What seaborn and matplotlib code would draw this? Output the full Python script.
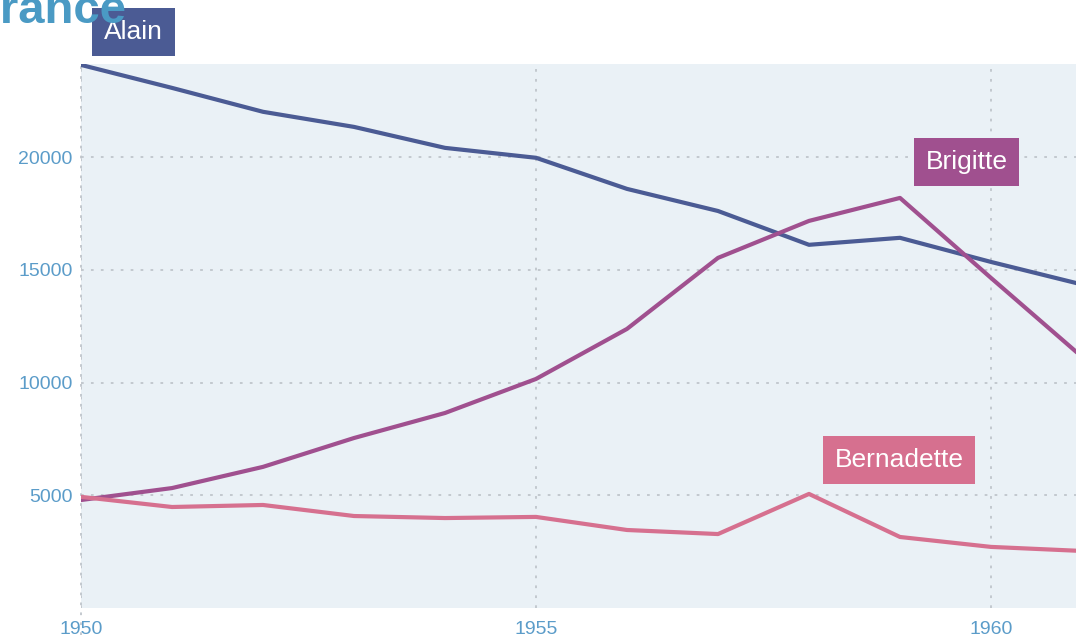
import matplotlib
matplotlib.use("Agg")
import matplotlib.pyplot as plt
import seaborn as sns
import pandas as pd

years = list(range(1950, 1962))
alain = [24090, 23070, 22010, 21340, 20410, 19970, 18590, 17610, 16110, 16420, 15350, 14350]
brigitte = [4790, 5320, 6260, 7540, 8650, 10160, 12380, 15530, 17170, 18190, 14640, 11140]
bernadette = [4930, 4480, 4570, 4080, 3990, 4040, 3460, 3280, 5060, 3150, 2710, 2530]
names = ["Alain", "Brigitte", "Bernadette"]
colors = {"Alain": "#4b5b94", "Brigitte": "#a0508f", "Bernadette": "#d6708f"}
x_ticks = [1950, 1955, 1960]
y_ticks = [5000, 10000, 15000, 20000]
labels_pos = {"Alain": (1950.58, 25550), "Brigitte": (1959.73, 19790), "Bernadette": (1958.99, 6570)}

df = pd.DataFrame({
    "year": years * 3,
    "count": alain + brigitte + bernadette,
    "name": ["Alain"] * 12 + ["Brigitte"] * 12 + ["Bernadette"] * 12,
})

sns.set_theme(style="white")
plt.rcParams["font.family"] = ["Liberation Sans", "DejaVu Sans"]

fig = plt.figure(figsize=(10.76, 6.41), dpi=100)
ax = fig.add_axes([81 / 1076, 33 / 641, 1 - 81 / 1076, (608 - 64) / 641])
ax.set_facecolor("#eaf1f6")

sns.lineplot(data=df, x="year", y="count", hue="name", palette=colors,
             linewidth=3, ax=ax, legend=False, sort=True)

ax.set_xlim(1950, 1950 + 995 / 91)
ax.set_ylim(0, 24130)
ax.set_xticks(x_ticks)
ax.set_yticks(y_ticks)
ax.set_xticklabels([str(t) for t in x_ticks])
ax.set_yticklabels([str(t) for t in y_ticks])
ax.tick_params(axis="y", length=0, labelsize=14, colors="#5b9cc9", pad=6)
ax.tick_params(axis="x", length=0, labelsize=14, colors="#5b9cc9", pad=9)
ax.set_xlabel("")
ax.set_ylabel("")
for s in ax.spines.values():
    s.set_visible(False)
ax.grid(True, linestyle=(0, (1.5, 4)), color="#bfc5cb", linewidth=1.3)
ax.set_axisbelow(True)
ax.axvline(1950, linestyle=(0, (1.5, 4)), color="#bfc5cb", linewidth=1.3, zorder=0, ymin=-0.05, clip_on=False)

for n in names:
    x, y = labels_pos[n]
    ax.text(x, y, n, ha="center", va="center", color="white", fontsize=19,
            clip_on=False, zorder=5,
            bbox=dict(boxstyle="square,pad=0.45", facecolor=colors[n], edgecolor="none"))

fig.text(-28 / 1076, 1 - 23 / 641, "France", fontsize=34, fontweight="bold",
         color="#4a9ac4", ha="left", va="baseline")

fig.savefig("out.png", dpi=100)
